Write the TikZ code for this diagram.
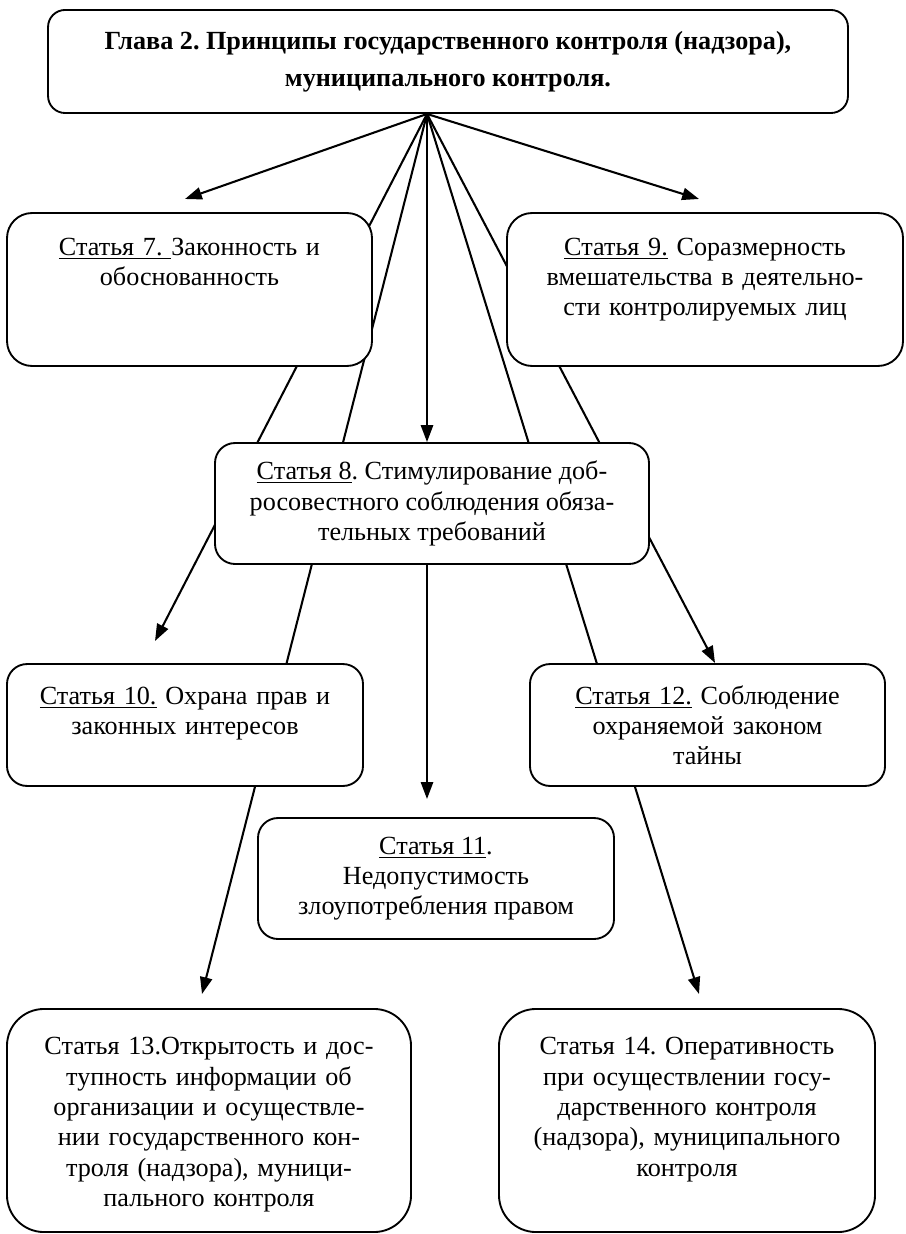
\documentclass[tikz,border=0pt]{standalone}
\usepackage{fontspec}
\setmainfont{Liberation Serif}
\frenchspacing
\usetikzlibrary{positioning, shapes, arrows.meta, calc, backgrounds}
\tikzset{
  card/.style={draw, fill=white, line width=1pt, rounded corners=10.7pt,
    inner sep=0pt, align=center, font=\fontsize{14pt}{16.2pt}\selectfont},
  arr/.style={line width=1.1pt, -{Triangle[length=9pt,width=6.5pt]}}}

\begin{document}
\begin{tikzpicture}[x=0.5348pt, y=-0.5348pt, line width=1pt]
\useasboundingbox (0,0) rectangle (905,1234);
\coordinate (c0) at (448,61.5);
\coordinate (c7) at (189.5,289.5);
\coordinate (c9) at (705,289.5);
\coordinate (c8) at (432,503.5);
\coordinate (c10) at (185,725);
\coordinate (c12) at (707.5,725);
\coordinate (c11) at (436,878.5);
\coordinate (c13) at (209,1120.5);
\coordinate (c14) at (687,1120.5);
% free ends of the arrows
\coordinate (t7) at (185,199);
\coordinate (t9) at (699,199);
\coordinate (t10) at (155,641);
\coordinate (t12) at (715,663);
\coordinate (t11) at (427,799);
\coordinate (t13) at (202,994);
\coordinate (t14) at (699,994);

\node[card, minimum width=427.8pt, minimum height=55.1pt, rounded corners=9.1pt,
  font=\fontsize{14pt}{19.8pt}\selectfont\bfseries] (glava) at (c0)
  {Глава 2. Принципы государственного контроля (надзора),\\ муниципального контроля.};
\coordinate (hub) at ($(glava.south)+(-21,0)$);

\node[card, rounded corners=13.4pt, text width=195.2pt, text height=22.5pt, text depth=59.3pt] (st7) at (c7)
  {\underline{Статья 7.\ }Законность и\\ обоснованность};
\node[card, rounded corners=13.4pt, text width=211.8pt, text height=22.5pt, text depth=59.3pt] (st9) at (c9)
  {\underline{Статья 9.} Соразмерность\\ вмешательства в деятельно-\\ сти контролируемых лиц};
\node[card, minimum width=232.1pt, minimum height=64.7pt] (st8) at (c8)
  {\underline{Статья 8}. Стимулирование доб-\\ росовестного соблюдения обяза-\\ тельных требований};
\node[card, text width=190.4pt, text height=21.4pt, text depth=43.8pt] (st10) at (c10)
  {\underline{Статья 10.} Охрана прав и\\ законных интересов};
\node[card, text width=189.9pt, text height=21.4pt, text depth=43.8pt] (st12) at (c12)
  {\underline{Статья 12.} Соблюдение\\ охраняемой законом\\ тайны};
\node[card, minimum width=190.4pt, minimum height=64.7pt] (st11) at (c11)
  {\underline{Статья 11}.\\ Недопустимость\\ злоупотребления правом};
\node[card, rounded corners=19.8pt, text width=216.1pt, text height=24.6pt, text depth=94.7pt] (st13) at (c13)
  {Статья 13.Открытость и дос-\\ тупность информации об\\ организации и осуществле-\\ нии государственного кон-\\ троля (надзора), муници-\\ пального контроля};
\node[card, rounded corners=19.8pt, text width=201.1pt, text height=24.6pt, text depth=94.7pt] (st14) at (c14)
  {Статья 14. Оперативность\\ при осуществлении госу-\\ дарственного контроля\\ (надзора), муниципального\\ контроля};

\begin{scope}[on background layer]
\draw[arr] (hub) -- (t7);
\draw[arr] (hub) -- (t9);
\draw[arr] (hub) -- (hub |- st8.north);
\draw[arr] (hub |- st8.south) -- (t11);
\draw[arr] (hub) -- (t10);
\draw[arr] (hub) -- (t12);
\draw[arr] (hub) -- (t13);
\draw[arr] (hub) -- (t14);
\end{scope}
\end{tikzpicture}
\end{document}
